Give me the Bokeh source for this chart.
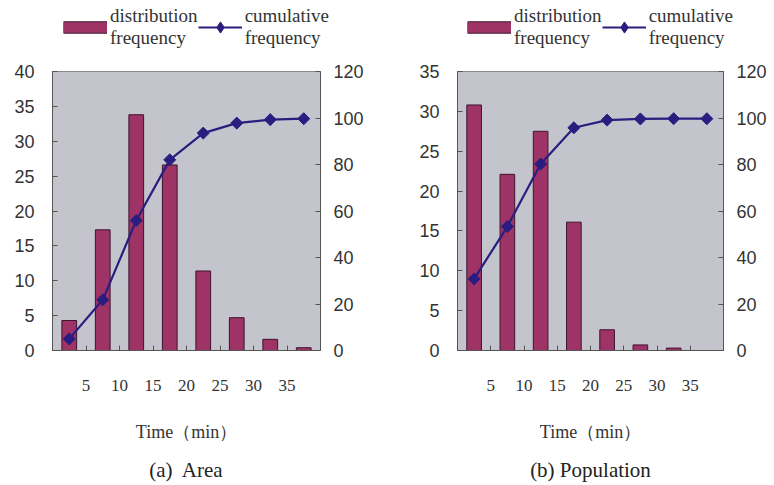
import numpy as np
from bokeh.plotting import figure
from bokeh.models import (Range1d, LinearAxis, FixedTicker, Legend, LegendItem, Title)
from bokeh.layouts import row, column
from bokeh.embed import file_html
from bokeh.resources import INLINE

# ---- data ----
time_labels = ["5", "10", "15", "20", "25", "30", "35"]

area_dist = [4.3, 17.3, 33.8, 26.6, 11.4, 4.7, 1.6, 0.4]
area_cum = [5.0, 21.8, 55.9, 82.0, 93.5, 97.8, 99.3, 99.7]

pop_dist = [30.8, 22.1, 27.5, 16.1, 2.6, 0.7, 0.3, 0.0]
pop_cum = [30.8, 53.3, 80.2, 95.8, 99.1, 99.6, 99.7, 99.7]

BAR = "#9e3366"
BAR_LINE = "#3c1430"
LINE = "#2b1d80"
BG = "#c4c4cc"
AX = "#555555"
TXT = "#333333"
SERIF = "Liberation Serif"
SANS = "Liberation Sans"
TOP = 10
LEG_H = 61


def make_legend_fig(dist, cum, total_w, leg_x, leg_lw):
    n = len(dist)
    xs = np.arange(n) + 0.5
    # ranges chosen so that the proxy glyphs lie outside the visible area
    lf = figure(frame_width=total_w, frame_height=LEG_H, output_backend="svg",
                toolbar_location=None, min_border=0, outline_line_color=None,
                x_range=Range1d(-2, -1), y_range=Range1d(-2, -1))
    lf.axis.visible = False
    lf.grid.visible = False
    b_edge = lf.line(x=xs, y=dist, line_color=BAR_LINE, line_width=12.5, line_cap="butt")
    b_fill = lf.line(x=xs, y=dist, line_color=BAR, line_width=10.5, line_cap="butt")
    ln = lf.line(x=xs, y=cum, line_color=LINE, line_width=2.2)
    mk = lf.scatter(x=xs, y=cum, marker="diamond", size=10,
                    fill_color=LINE, line_color=LINE)
    legend = Legend(items=[LegendItem(label="distribution\nfrequency", renderers=[b_edge, b_fill]),
                           LegendItem(label="cumulative\nfrequency", renderers=[ln, mk])],
                    location=(leg_x, 10), orientation="horizontal",
                    background_fill_alpha=0, border_line_alpha=0, padding=2, margin=0,
                    spacing=0, glyph_width=44, glyph_height=28, label_standoff=3,
                    label_width=leg_lw, label_text_font=SERIF, label_text_font_size="19px",
                    label_text_line_height=1.05, label_text_color=TXT)
    lf.add_layout(legend, "center")
    return lf


def make_panel(dist, cum, ymax, ystep, caption, fw, bl, br):
    n = len(dist)
    xs = np.arange(n) + 0.5
    p = figure(frame_width=fw, frame_height=279, output_backend="svg",
               toolbar_location=None, x_range=Range1d(0, n), y_range=Range1d(0, ymax),
               min_border_left=bl, min_border_right=br, min_border_top=TOP,
               min_border_bottom=134, background_fill_color=BG,
               border_fill_color="white", outline_line_color="#8a8a8a")
    p.extra_y_ranges = {"cum": Range1d(0, 120)}
    p.xgrid.visible = False
    p.ygrid.visible = False

    p.vbar(x=xs, top=dist, width=0.44, fill_color=BAR, line_color=BAR_LINE, line_width=1)
    p.line(x=xs, y=cum, y_range_name="cum", line_color=LINE, line_width=2.2)
    p.scatter(x=xs, y=cum, y_range_name="cum", marker="square", angle=np.pi / 4,
              size=8.5, fill_color=LINE, line_color=LINE)

    # x axis
    xa = p.xaxis[0]
    xa.ticker = FixedTicker(ticks=list(range(1, n)))
    xa.major_label_overrides = {i + 1: t for i, t in enumerate(time_labels)}
    xa.major_tick_in = 5
    xa.major_tick_out = 0
    xa.minor_tick_line_color = None
    xa.axis_line_color = AX
    xa.major_tick_line_color = AX
    xa.major_label_standoff = 29
    xa.major_label_text_font = SERIF
    xa.major_label_text_font_size = "17px"
    xa.major_label_text_color = TXT
    xa.axis_label = "Time\uff08min\uff09"
    xa.axis_label_text_font = SERIF
    xa.axis_label_text_font_style = "normal"
    xa.axis_label_text_font_size = "18px"
    xa.axis_label_text_color = TXT
    xa.axis_label_standoff = 28

    # left y axis
    ya = p.yaxis[0]
    ya.ticker = FixedTicker(ticks=list(range(0, ymax + 1, ystep)))
    ya.major_tick_in = 5
    ya.major_tick_out = 0
    ya.minor_tick_line_color = None
    ya.axis_line_color = AX
    ya.major_tick_line_color = AX
    ya.major_label_standoff = 18
    ya.major_label_text_font = SANS
    ya.major_label_text_font_size = "18px"
    ya.major_label_text_color = TXT

    # right y axis
    ra = LinearAxis(y_range_name="cum", ticker=FixedTicker(ticks=list(range(0, 121, 20))))
    ra.major_tick_in = 5
    ra.major_tick_out = 0
    ra.minor_tick_line_color = None
    ra.axis_line_color = AX
    ra.major_tick_line_color = AX
    ra.major_label_standoff = 13
    ra.major_label_text_font = SANS
    ra.major_label_text_font_size = "18px"
    ra.major_label_text_color = TXT
    p.add_layout(ra, "right")

    p.add_layout(Title(text=caption, align="center", text_font=SERIF,
                       text_font_size="21px", text_font_style="normal",
                       text_color="#222222", standoff=22), "below")
    return p


p1 = make_panel(area_dist, area_cum, 40, 5, "(a)\u00a0 Area", 268, 52, 70)
p2 = make_panel(pop_dist, pop_cum, 35, 5, "(b) Population", 266, 67, 47)
l1 = make_legend_fig(area_dist, area_cum, 52 + 268 + 70, 61, 87)
l2 = make_legend_fig(pop_dist, pop_cum, 67 + 266 + 47, 75, 83)

layout = row(column(l1, p1), column(l2, p2))
open("out.html", "w").write(file_html(layout, INLINE))
